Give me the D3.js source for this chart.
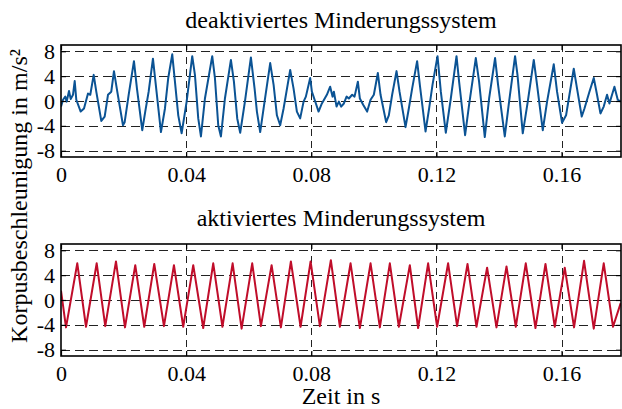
<!DOCTYPE html>
<html>
<head>
<meta charset="utf-8">
<script src="https://cdn.jsdelivr.net/npm/d3@7/dist/d3.min.js"></script>
<style>
  html, body { margin: 0; padding: 0; background: #fff; }
  svg { display: block; font-family: "Liberation Serif", "Times New Roman", serif; }
</style>
</head>
<body>
<svg id="chart" width="622" height="409"></svg>
<script>
// ---- data (time in ms, acceleration in m/s²) ----
const titles = ["deaktiviertes Minderungssystem", "aktiviertes Minderungssystem"];
const xTicks = [0, 40, 80, 120, 160];
const xTickLabels = ["0", "0.04", "0.08", "0.12", "0.16"];
const yTicks = [-8, -4, 0, 4, 8];
const yTickLabels = ["-8", "-4", "0", "4", "8"];
const xLabel = "Zeit in s";
const yLabel = "Korpusbeschleunigung in m/s²";

// deactivated system (blue)
const topT = [0, 0.64, 1.37, 1.82, 2.56, 3.10, 3.83, 4.38, 4.89, 6.29, 7.35, 8.63, 9.36, 10.45, 11.28, 12.88, 13.96, 15.02, 16.07, 16.93, 17.99, 19.81, 20.35, 21.63, 23.32, 24.28, 25.97, 26.93, 28.02, 29.39,
  31.95, 33.23, 34.28, 35.56, 36.42, 37.48, 38.56, 40.16, 41.95, 42.81, 43.87, 44.73, 46.01, 48.34, 49.20, 50.26, 51.12, 52.40, 54.31, 55.27, 56.33, 57.28, 58.79,
  60.70, 61.88, 62.62, 63.67, 64.76, 66.87, 67.96, 69.01, 70.06, 71.15, 73.26, 74.34, 75.40, 76.45, 77.54, 78.27, 79.65, 80.19, 81.47, 82.33, 83.39, 84.98, 86.04, 86.81,
  87.22, 88.08, 88.82, 89.55, 90.42, 91.28, 92.01, 93.07, 93.83, 94.89, 95.53, 96.58, 97.86, 98.95, 100.0, 101.28, 102.14, 103.93, 104.79, 105.85, 107.25, 108.21, 110.13, 111.18, 112.24, 113.83, 114.70, 116.52,
  117.67, 118.75, 120.35, 121.41, 123.00, 124.60, 126.42, 127.25, 129.17, 130.45, 132.59, 133.64, 135.46, 136.84, 138.75, 139.71, 141.85, 143.23, 145.14, 145.91,
  147.60, 149.20, 151.12, 152.17, 153.99, 155.37, 157.51, 158.56, 160.16, 161.44, 162.52, 163.90, 164.95, 166.45, 167.32, 168.91, 170.29, 171.34, 172.43, 173.48, 174.54, 175.30, 176.90, 177.96, 178.91];
const topV = [-0.9, 0.2, 0.7, -0.1, 1.6, 0.3, 1.0, 3.2, 0.2, -1.7, -1.2, 1.2, 1.0, 4.2, 1.5, -3.2, -2.5, 1.0, 1.5, 4.8, 1.5, -3.9, -3.4, 1.0, 6.4, 2.0, -4.7, -1.7, 1.5, 6.8,
  -5.0, -1.2, 3.7, 7.5, 3.1, -2.3, -5.2, -0.1, 7.2, 4.2, -2.8, -5.7, 0.4, 7.2, 3.7, -3.9, -5.7, 0.4, 6.6, 3.1, -2.8, -5.1, -0.1,
  7.0, 2.0, -1.7, -5.0, -1.2, 6.1, 2.6, -2.3, -3.9, -1.2, 5.0, 2.0, -1.7, -2.8, -0.1, 0.7, 3.7, 1.5, -0.4, -1.7, -0.4, 1.0, 2.3, 0.7,
  1.5, -0.9, -0.1, -0.9, -0.4, 0.7, 0.4, 1.0, 0.7, 3.1, 0.4, -0.6, -1.7, 0.2, 1.0, 4.5, 1.0, -3.4, -2.3, 1.0, 4.8, 1.5, -4.2, -1.2, 2.0, 6.4, 2.6, -4.9,
  -1.2, 2.6, 7.2, 1.5, -5.1, 0.4, 7.2, 3.1, -5.5, -0.6, 6.9, 3.1, -5.8, 0.4, 6.9, 2.6, -5.7, -0.1, 7.2, 4.2,
  -5.2, -0.1, 6.6, 2.6, -4.7, -0.1, 5.9, 1.5, -3.5, -2.3, 1.0, 5.2, 2.0, -2.5, -1.2, 1.5, 3.7, 1.0, -2.0, -0.9, 1.0, -0.4, 2.3, 0.2, -0.1];

// activated system (red): start/end points, troughs and peaks
const botEndsT = [0, 178.9];
const botEndsV = [1.5, -0.5];
const botTroughT = [1.60, 7.99, 14.15, 20.45, 26.61, 32.91, 39.07, 45.46, 51.60, 57.73, 63.90, 70.29, 76.58, 82.75, 89.14, 95.53, 101.92, 107.99, 114.15, 120.22, 126.61, 132.81, 139.20, 145.37, 151.66, 157.83, 163.99, 170.29, 176.45];
const botTroughV = [-4.4, -4.3, -4.2, -4.4, -4.3, -4.2, -4.3, -4.5, -4.3, -4.6, -4.2, -4.4, -4.3, -4.2, -4.3, -4.5, -4.4, -4.3, -4.5, -4.3, -4.2, -4.3, -4.4, -4.3, -4.5, -4.3, -4.4, -4.6, -4.3];
const botPeakT = [5.21, 11.41, 17.57, 23.74, 29.81, 36.10, 42.27, 48.66, 54.86, 61.12, 67.32, 73.48, 79.78, 86.26, 92.56, 98.95, 105.11, 111.50, 117.35, 123.74, 129.94, 136.20, 142.40, 148.56, 154.86, 161.02, 167.19, 173.48];
const botPeakV = [5.9, 5.9, 6.2, 5.6, 5.8, 5.6, 5.6, 5.9, 5.9, 5.9, 5.6, 6.2, 6.2, 6.4, 5.9, 5.9, 5.9, 5.6, 5.9, 5.9, 5.8, 5.2, 5.4, 5.9, 5.8, 5.2, 6.3, 5.9];

// ---- build tables ----
const topData = topT.map((t, i) => ({ t, v: topV[i] }));
const botData = []
  .concat(botEndsT.map((t, i) => ({ t, v: botEndsV[i] })))
  .concat(botTroughT.map((t, i) => ({ t, v: botTroughV[i] })))
  .concat(botPeakT.map((t, i) => ({ t, v: botPeakV[i] })))
  .sort((a, b) => a.t - b.t);

const svg = d3.select("#chart");
const L = 61, R = 621;
const x = d3.scaleLinear().domain([0, 179]).range([L, R]);

const panels = [
  { top: 45, bottom: 157, data: topData, color: "#0b5394", title: titles[0], titleY: 28 },
  { top: 244, bottom: 356, data: botData, color: "#c00d2a", title: titles[1], titleY: 226 }
];

panels.forEach(p => {
  const y = d3.scaleLinear().domain([-9, 9]).range([p.bottom, p.top]);
  const g = svg.append("g");

  // grid
  g.append("g").selectAll("line").data(yTicks).join("line")
    .attr("x1", L).attr("x2", R)
    .attr("y1", d => Math.round(y(d)) + 0.5).attr("y2", d => Math.round(y(d)) + 0.5)
    .attr("stroke", "#222").attr("stroke-width", 1).attr("stroke-dasharray", "9,5");
  g.append("g").selectAll("line").data(xTicks.slice(1)).join("line")
    .attr("x1", d => Math.round(x(d)) + 0.5).attr("x2", d => Math.round(x(d)) + 0.5)
    .attr("y1", p.top).attr("y2", p.bottom)
    .attr("stroke", "#222").attr("stroke-width", 1).attr("stroke-dasharray", "7,5");

  // clip for the signal
  const clipId = "clip" + p.top;
  svg.append("clipPath").attr("id", clipId).append("rect")
    .attr("x", L).attr("y", p.top).attr("width", R - L).attr("height", p.bottom - p.top);

  const line = d3.line().x(d => x(d.t)).y(d => y(d.v));
  g.append("path").datum(p.data)
    .attr("clip-path", `url(#${clipId})`)
    .attr("fill", "none").attr("stroke", p.color).attr("stroke-width", 2)
    .attr("stroke-linejoin", "round").attr("d", line);

  // axes (ticks inside)
  const fmtX = d => xTickLabels[xTicks.indexOf(d)];
  const fmtY = d => yTickLabels[yTicks.indexOf(d)];
  const ax = g.append("g").attr("transform", `translate(0,${p.bottom})`)
    .call(d3.axisBottom(x).tickValues(xTicks).tickSize(-5).tickPadding(9).tickFormat(fmtX));
  const axT = g.append("g").attr("transform", `translate(0,${p.top})`)
    .call(d3.axisTop(x).tickValues(xTicks).tickSize(-5).tickFormat(""));
  const ay = g.append("g").attr("transform", `translate(${L},0)`)
    .call(d3.axisLeft(y).tickValues(yTicks).tickSize(-5).tickPadding(6).tickFormat(fmtY));
  const ayR = g.append("g").attr("transform", `translate(${R},0)`)
    .call(d3.axisRight(y).tickValues(yTicks).tickSize(-5).tickFormat(""));
  [ax, axT, ay, ayR].forEach(a => {
    a.select(".domain").remove();
    a.selectAll("line").attr("stroke", "#000").attr("stroke-width", 1.2);
    a.selectAll("text").attr("fill", "#000").style("font-family", "'Liberation Serif', serif").style("font-size", "22px");
  });

  // box
  g.append("rect").attr("x", L).attr("y", p.top).attr("width", R - L).attr("height", p.bottom - p.top)
    .attr("fill", "none").attr("stroke", "#000").attr("stroke-width", 1.6);

  // title
  svg.append("text").attr("x", (L + R) / 2).attr("y", p.titleY).attr("text-anchor", "middle")
    .style("font-size", "24px").attr("fill", "#000").text(p.title);
});

svg.append("text").attr("x", (L + R) / 2).attr("y", 404).attr("text-anchor", "middle")
  .style("font-size", "24px").attr("fill", "#000").text(xLabel);
svg.append("text").attr("transform", "translate(27,196) rotate(-90)").attr("text-anchor", "middle")
  .style("font-size", "24px").attr("fill", "#000").text(yLabel);
</script>
</body>
</html>
